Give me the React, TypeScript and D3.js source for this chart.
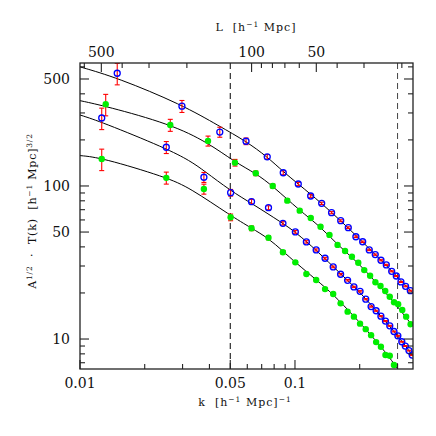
import React from "react";
import * as d3 from "d3";

// measured points, one array per simulation
const kA = [0.0149, 0.0298, 0.0447, 0.0592, 0.0743, 0.0882, 0.1036, 0.1183, 0.1331, 0.148, 0.1632, 0.177, 0.192, 0.2065, 0.2216, 0.2363, 0.2512, 0.266, 0.2818, 0.296, 0.311, 0.327, 0.344];
const vA = [545, 332, 225, 196, 155, 122, 103, 86, 77, 66.9, 59.3, 53.4, 46.6, 43.2, 38.2, 35.6, 32.7, 30.5, 27.7, 25.8, 23.6, 22.1, 20.7];

const kB = [0.01317, 0.0263, 0.0394, 0.0526, 0.0657, 0.0788, 0.0921, 0.1052, 0.1184, 0.1315, 0.1447, 0.1578, 0.171, 0.184, 0.197, 0.21, 0.2236, 0.2367, 0.25, 0.263, 0.276, 0.289, 0.302, 0.3156, 0.329, 0.345];
const vB = [342, 250, 197, 142, 121, 100, 80.2, 69, 61.8, 54.2, 47.9, 41.2, 37.6, 34.5, 31.5, 28.2, 25.9, 23.5, 22.2, 20.6, 18.9, 17.4, 16.9, 15.5, 14.0, 12.5];

const kC = [0.01262, 0.0252, 0.0377, 0.0502, 0.0628, 0.0753, 0.0879, 0.1004, 0.113, 0.1255, 0.138, 0.1506, 0.163, 0.1757, 0.188, 0.2008, 0.2134, 0.226, 0.2385, 0.251, 0.2636, 0.276, 0.2887, 0.301, 0.314, 0.326, 0.339, 0.351];
const vC = [278, 179, 114, 90.4, 79, 72.1, 57, 50.1, 43.1, 38.2, 33.7, 29.6, 26.5, 24.2, 21.9, 20.5, 18.2, 16.3, 15.3, 14.1, 13.1, 12.2, 11.2, 10.5, 9.6, 9.0, 8.4, 7.86];

const kD = [0.01262, 0.0252, 0.0377, 0.0502, 0.0628, 0.0753, 0.0879, 0.1004, 0.113, 0.1255, 0.138, 0.1506, 0.163, 0.1757, 0.188, 0.2008, 0.2134, 0.226, 0.2385, 0.251, 0.2636, 0.276, 0.2887];
const vD = [150, 113, 95.6, 62.4, 52.9, 45.9, 36.9, 31.7, 26.6, 24.3, 21.2, 19.7, 17.1, 15.1, 14.0, 12.6, 11.6, 10.6, 9.55, 8.91, 7.86, 7.78, 6.76];

// relative error by mode number
const relErr = [0.16, 0.09, 0.075, 0.05, 0.035, 0.03, 0.025, 0.02, 0.018, 0.016, 0.014, 0.013, 0.012, 0.011, 0.01, 0.01, 0.009, 0.009, 0.008, 0.008, 0.008, 0.007, 0.007, 0.007, 0.006, 0.006, 0.006, 0.006];

// model curves
const fitAk = [0.01, 0.0149, 0.0298, 0.0447, 0.0592, 0.0743, 0.0882, 0.1036, 0.1331, 0.163, 0.2, 0.2363, 0.2818, 0.344, 0.354];
const fitAv = [600, 510, 340, 245, 196, 155, 124, 103, 77, 59.3, 45, 35.6, 27.9, 20.8, 20.0];
const fitBk = [0.01, 0.0132, 0.0263, 0.0394, 0.0526, 0.0657, 0.0788, 0.1052, 0.1315, 0.1578, 0.197, 0.2367, 0.289, 0.342, 0.354];
const fitBv = [361, 332, 254, 192, 143, 121, 100, 69, 54.2, 41.2, 31.5, 23.6, 17.5, 12.8, 12.2];
const fitCk = [0.01, 0.0126, 0.0252, 0.0325, 0.0377, 0.0502, 0.0628, 0.0879, 0.1004, 0.1255, 0.163, 0.2008, 0.251, 0.301, 0.339, 0.354];
const fitCv = [291, 262, 176, 146, 126, 93, 77, 57, 50, 38.2, 26.6, 20.3, 14.1, 10.5, 8.4, 7.7];
const fitDk = [0.01, 0.0126, 0.0252, 0.0325, 0.0502, 0.0628, 0.0753, 0.0879, 0.1004, 0.1255, 0.1506, 0.188, 0.226, 0.2636, 0.2887, 0.31];
const fitDv = [158, 153, 114, 97, 64, 53, 45.5, 37.5, 31.7, 24.4, 19.6, 14.1, 10.6, 8.2, 6.9, 6.0];

// axes
const kTicksMajor = [0.01, 0.05, 0.1];
const kTickLabels = ["0.01", "0.05", "0.1"];
const kTicksMinor = [0.02, 0.03, 0.04, 0.06, 0.07, 0.08, 0.09, 0.2, 0.3];
const yTicksMajor = [10, 50, 100, 500];
const yTicksMinor = [7, 8, 9, 20, 30, 40, 60, 70, 80, 90, 200, 300, 400, 600];
const lTicksMajor = [500, 100, 50];
const lTicksMinor = [600, 400, 300, 200, 90, 80, 70, 60, 40, 30, 20];
const cutK = [0.05, 0.3];

const X0 = 80, X1 = 413, Y0 = 63, Y1 = 369;
const FONT = "'DejaVu Serif', serif";

export default function App() {
  const x = d3.scaleLog().domain([0.01, 0.354]).range([X0, X1]);
  const y = d3.scaleLog().domain([6.37, 636]).range([Y1, Y0]);
  const xL = (L: number) => x((2 * Math.PI) / L);

  const line = d3
    .line<number>()
    .curve(d3.curveBasis);

  const fitPath = (ks: number[], vs: number[]) =>
    line.x((_, i) => x(ks[i])).y((_, i) => y(vs[i]))(ks) || "";

  const series = [
    { k: kA, v: vA, filled: false },
    { k: kB, v: vB, filled: true },
    { k: kC, v: vC, filled: false },
    { k: kD, v: vD, filled: true },
  ];
  const fits = [
    [fitAk, fitAv],
    [fitBk, fitBv],
    [fitCk, fitCv],
    [fitDk, fitDv],
  ];

  const axisColor = "#222";
  const major = 9, minor = 5;

  return (
    <svg
      width={436}
      height={436}
      style={{ position: "absolute", left: 0, top: 0, background: "#fff" }}
      fontFamily={FONT}
    >
      <defs>
        <clipPath id="plot">
          <rect x={X0} y={Y0} width={X1 - X0} height={Y1 - Y0} />
        </clipPath>
      </defs>

      {/* dashed k limits */}
      {cutK.map((k, i) => (
        <line key={k} x1={x(k)} x2={x(k)} y1={Y0} y2={Y1} stroke={i === 0 ? "#000" : "#444"} strokeWidth={1} strokeDasharray="6,4" />
      ))}

      <g clipPath="url(#plot)">
        {fits.map(([ks, vs], i) => (
          <path key={i} d={fitPath(ks, vs)} fill="none" stroke="#000" strokeWidth={1} />
        ))}
        {series.map((s, si) =>
          s.k.map((k, i) => {
            const cx = x(k);
            const e = relErr[i];
            const ya = y(s.v[i] * (1 + e));
            const yb = y(s.v[i] * (1 - e));
            return (
              <g key={si + "-" + i}>
                <line x1={cx} x2={cx} y1={ya} y2={yb} stroke="#f00" strokeWidth={1.1} />
                <line x1={cx - 2.5} x2={cx + 2.5} y1={ya} y2={ya} stroke="#f00" strokeWidth={1.1} />
                <line x1={cx - 2.5} x2={cx + 2.5} y1={yb} y2={yb} stroke="#f00" strokeWidth={1.1} />
                {s.filled ? (
                  <circle cx={cx} cy={y(s.v[i])} r={3.2} fill="#00ee00" />
                ) : (
                  <circle cx={cx} cy={y(s.v[i])} r={3} fill="none" stroke="#0000ff" strokeWidth={1.3} />
                )}
              </g>
            );
          })
        )}
      </g>

      {/* frame */}
      <rect x={X0} y={Y0} width={X1 - X0} height={Y1 - Y0} fill="none" stroke={axisColor} strokeWidth={1.3} />

      {/* bottom k ticks */}
      {kTicksMajor.map((k) => (
        <line key={"kM" + k} x1={x(k)} x2={x(k)} y1={Y1} y2={Y1 - major} stroke={axisColor} strokeWidth={1.1} />
      ))}
      {kTicksMinor.map((k) => (
        <line key={"km" + k} x1={x(k)} x2={x(k)} y1={Y1} y2={Y1 - minor} stroke={axisColor} strokeWidth={1.1} />
      ))}
      {kTicksMajor.map((k, i) => (
        <text key={"kl" + k} x={x(k)} y={388} fontSize={14} textAnchor="middle" fill="#111">
          {kTickLabels[i]}
        </text>
      ))}

      {/* top L ticks */}
      {lTicksMajor.map((L) => (
        <line key={"LM" + L} x1={xL(L)} x2={xL(L)} y1={Y0} y2={Y0 + major} stroke={axisColor} strokeWidth={1.1} />
      ))}
      {lTicksMinor.map((L) => (
        <line key={"Lm" + L} x1={xL(L)} x2={xL(L)} y1={Y0} y2={Y0 + minor} stroke={axisColor} strokeWidth={1.1} />
      ))}
      {lTicksMajor.map((L) => (
        <text key={"Ll" + L} x={xL(L)} y={57} fontSize={14} textAnchor="middle" fill="#111">
          {L}
        </text>
      ))}

      {/* left / right y ticks */}
      {yTicksMajor.map((v) => (
        <g key={"yM" + v}>
          <line x1={X0} x2={X0 + major} y1={y(v)} y2={y(v)} stroke={axisColor} strokeWidth={1.1} />
          <line x1={X1} x2={X1 - major} y1={y(v)} y2={y(v)} stroke={axisColor} strokeWidth={1.1} />
          <text x={70} y={y(v) + 5} fontSize={14} textAnchor="end" fill="#111">
            {v}
          </text>
        </g>
      ))}
      {yTicksMinor.map((v) => (
        <g key={"ym" + v}>
          <line x1={X0} x2={X0 + minor} y1={y(v)} y2={y(v)} stroke={axisColor} strokeWidth={1.1} />
          <line x1={X1} x2={X1 - minor} y1={y(v)} y2={y(v)} stroke={axisColor} strokeWidth={1.1} />
        </g>
      ))}

      {/* titles */}
      <text x={256} y={31} fontSize={11} textAnchor="middle" letterSpacing={1} style={{ whiteSpace: "pre" }} fill="#111">
        {"L  [h"}
        <tspan dy={-4} fontSize={7.5}>{"−1"}</tspan>
        <tspan dy={4}>{" Mpc]"}</tspan>
      </text>
      <text x={245} y={406} fontSize={11} textAnchor="middle" letterSpacing={1} style={{ whiteSpace: "pre" }} fill="#111">
        {"k  [h"}
        <tspan dy={-4} fontSize={7.5}>{"−1"}</tspan>
        <tspan dy={4}>{" Mpc]"}</tspan>
        <tspan dy={-4} fontSize={7.5}>{"−1"}</tspan>
      </text>
      <text
        transform="translate(36,211) rotate(-90)"
        fontSize={11}
        textAnchor="middle"
        letterSpacing={0.8}
        style={{ whiteSpace: "pre" }}
        fill="#111"
      >
        {"A"}
        <tspan dy={-4} fontSize={7.5}>{"1/2"}</tspan>
        <tspan dy={4}>{"  ·  T(k)  [h"}</tspan>
        <tspan dy={-4} fontSize={7.5}>{"−1"}</tspan>
        <tspan dy={4}>{" Mpc]"}</tspan>
        <tspan dy={-4} fontSize={7.5}>{"3/2"}</tspan>
      </text>
    </svg>
  );
}
